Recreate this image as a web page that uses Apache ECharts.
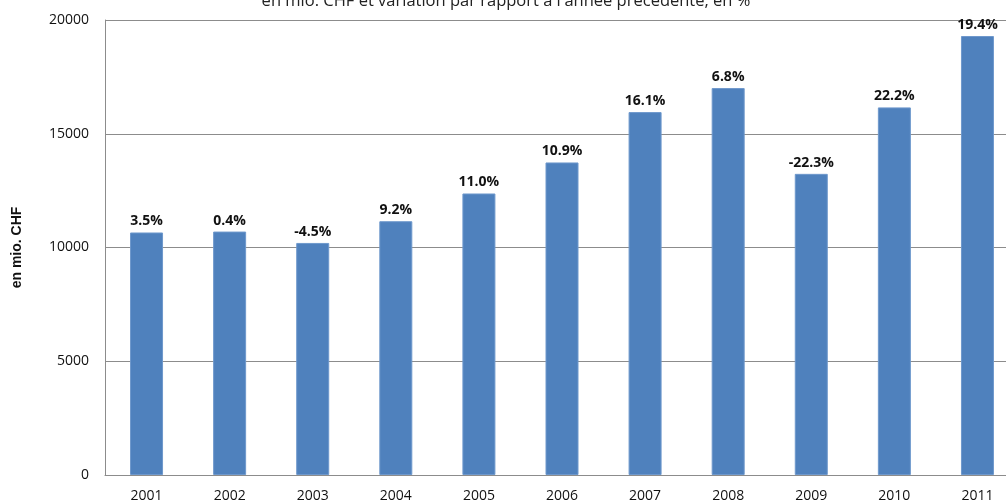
<!DOCTYPE html>
<html>
<head>
<meta charset="utf-8">
<title>en mio. CHF</title>
<script src="https://cdn.jsdelivr.net/npm/echarts@6/dist/echarts.min.js"></script>
<style>
  html, body { margin: 0; padding: 0; background: #ffffff; }
  #chart { width: 1006px; height: 503px; }
</style>
</head>
<body>
<div id="chart"></div>
<script>
// Years on the category axis
const years = ['2001', '2002', '2003', '2004', '2005', '2006', '2007', '2008', '2009', '2010', '2011'];
// Amounts in million CHF
const amounts = [10660, 10700, 10200, 11155, 12374, 13738, 15952, 17008, 13237, 16158, 19296];
// Change versus the previous year, in %
const growth = ['3.5%', '0.4%', '-4.5%', '9.2%', '11.0%', '10.9%', '16.1%', '6.8%', '-22.3%', '22.2%', '19.4%'];
// Value axis ticks
const yTicks = [0, 5000, 10000, 15000, 20000];

const chart = echarts.init(document.getElementById('chart'), null, { renderer: 'canvas' });

const gridGray = '#8c8c8c';
const textFont = 'Open Sans';

chart.setOption({
  animation: false,
  backgroundColor: '#ffffff',
  title: {
    text: "en mio. CHF et variation par rapport à l'année précédente, en %",
    left: 501,
    textAlign: 'center',
    top: -12,
    textStyle: { fontFamily: textFont, fontSize: 16.5, fontWeight: 'normal', color: '#222' }
  },
  // the last category runs past the right edge of the page
  grid: { left: 105, width: 914, top: 20, bottom: 28, containLabel: false, outerBoundsMode: 'none' },
  xAxis: {
    type: 'category',
    data: years,
    axisLine: { show: true, lineStyle: { color: gridGray, width: 1 } },
    axisTick: { show: false },
    axisLabel: { margin: 14, fontFamily: textFont, fontSize: 14, color: '#111' }
  },
  yAxis: {
    type: 'value',
    min: yTicks[0],
    max: yTicks[yTicks.length - 1],
    interval: yTicks[1] - yTicks[0],
    name: 'en mio. CHF',
    nameLocation: 'middle',
    nameRotate: 90,
    nameGap: 81,
    nameTextStyle: { fontFamily: 'Liberation Sans', fontSize: 14, fontWeight: 'bold', color: '#111' },
    axisLine: { show: true, lineStyle: { color: gridGray, width: 1 } },
    axisTick: { show: false },
    splitLine: { show: true, lineStyle: { color: gridGray, width: 1 } },
    axisLabel: { margin: 16, fontFamily: textFont, fontSize: 14, color: '#111', formatter: v => String(v) }
  },
  series: [{
    type: 'bar',
    data: amounts,
    barWidth: 33,
    itemStyle: { color: '#4f81bd', borderColor: '#6e98cc', borderWidth: 1 },
    label: {
      show: true,
      position: 'top',
      distance: 4,
      formatter: p => growth[p.dataIndex],
      fontFamily: textFont,
      fontSize: 14,
      fontWeight: 'bold',
      color: '#111'
    }
  }]
});
</script>
</body>
</html>
